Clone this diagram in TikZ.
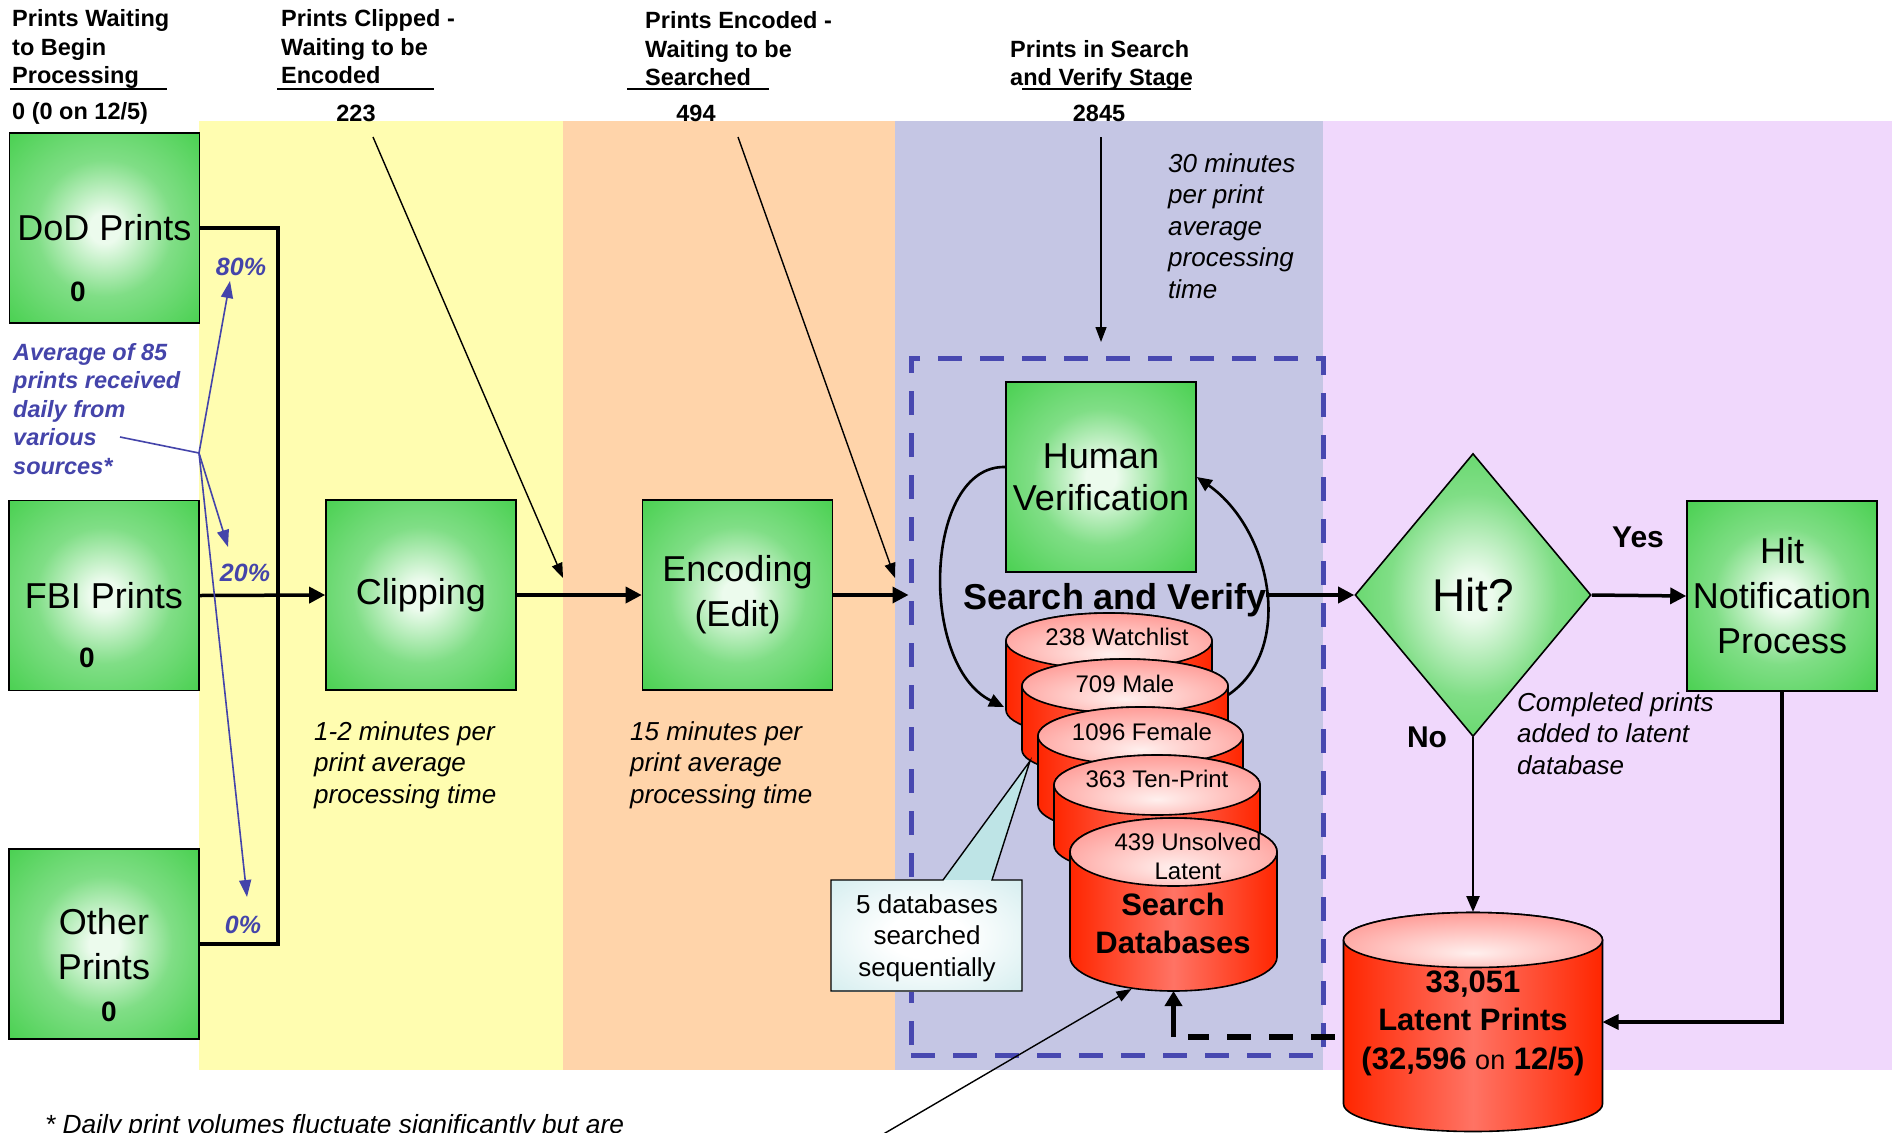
\documentclass[tikz,border=0pt]{standalone}
\usepackage{fontspec}
\setmainfont{Liberation Sans}
\usetikzlibrary{arrows.meta,shapes.geometric,calc}

\definecolor{bandY}{RGB}{255,253,176}
\definecolor{bandO}{RGB}{255,212,170}
\definecolor{bandB}{RGB}{197,198,228}
\definecolor{bandV}{RGB}{240,216,252}
\definecolor{gEdge}{RGB}{60,205,68}
\definecolor{gMid}{RGB}{128,222,134}
\definecolor{gCen}{RGB}{236,251,237}
\definecolor{rEdge}{RGB}{255,38,0}
\definecolor{rMid}{RGB}{255,115,100}
\definecolor{pEdge}{RGB}{255,118,112}
\definecolor{pCen}{RGB}{255,240,238}
\definecolor{cEdge}{RGB}{190,228,230}
\definecolor{annBlue}{RGB}{68,68,170}
\definecolor{boxBlue}{RGB}{72,72,176}

\pgfdeclareradialshading{greenglow}{\pgfpoint{0bp}{0bp}}{color(0bp)=(gCen); color(4bp)=(gCen); color(18bp)=(gMid); color(40bp)=(gEdge); color(50bp)=(gEdge)}
\pgfdeclareradialshading{pinkglow}{\pgfpoint{0bp}{-12bp}}{color(0bp)=(pCen); color(45bp)=(pEdge); color(60bp)=(pEdge)}
\pgfdeclareradialshading{cyanglow}{\pgfpoint{0bp}{0bp}}{color(0bp)=(white); color(10bp)=(white); color(50bp)=(cEdge)}

\newcommand{\fsz}[2]{\fontsize{#1}{#2}\selectfont}
\newcommand{\drawcyl}[5]{%
  \path[left color=rEdge, right color=rEdge, middle color=rMid, draw=black, line width=1.6pt]
    (#1-#4,-#2) -- (#1-#4,-#3) arc[start angle=180, end angle=360, x radius=#4, y radius=#5]
    -- (#1+#4,-#2) arc[start angle=0, end angle=180, x radius=#4, y radius=#5] -- cycle;
  \path[shade, shading=pinkglow, draw=black, line width=1.6pt] (#1,-#2) ellipse[x radius=#4, y radius=#5];
}

\tikzset{
  gbox/.style={draw=black, line width=1.6pt, shade, shading=greenglow, minimum width=190pt,
    minimum height=190pt, inner sep=0pt, align=center, font=\fsz{36pt}{45pt}},
  zero/.style={font=\bfseries\fsz{28pt}{30pt}, inner sep=0pt},
  flow/.style={line width=3.5pt, -{Triangle[length=16pt,width=16pt]}},
  thinarr/.style={line width=1.4pt, -{Triangle[length=15pt,width=11pt]}},
  ann/.style={annBlue, line width=1.6pt},
  annarr/.style={annBlue, line width=1.6pt, -{Triangle[length=17pt,width=12pt]}},
  hdr/.style={font=\bfseries\fsz{23.5pt}{28.5pt}, align=left, inner sep=0pt, anchor=west},
  num/.style={font=\bfseries\fsz{23.5pt}{28pt}, inner sep=0pt},
  note/.style={font=\itshape\fsz{26pt}{31.5pt}, align=left, inner sep=0pt, anchor=west},
  pct/.style={font=\bfseries\itshape\fsz{25pt}{30pt}, text=annBlue, inner sep=0pt},
  dblabel/.style={font=\fsz{24pt}{29pt}, inner sep=0pt, align=center},
  lbl/.style={inner sep=0pt, align=center},
  ghost/.style={inner sep=0pt, outer sep=0pt},
  arcarr/.style={line width=2.6pt, -{Triangle[length=15pt,width=13pt]}},
}

\begin{document}
\begin{tikzpicture}[x=1pt,y=1pt]
\useasboundingbox (0,0) rectangle (1894,-1132);
\fill[white] (0,0) rectangle (1894,-1132);

% stage bands
\fill[bandY] (199,-121) rectangle (563,-1070);
\fill[bandO] (563,-121) rectangle (895,-1070);
\fill[bandB] (895,-121) rectangle (1323,-1070);
\fill[bandV] (1323,-121) rectangle (1892,-1070);

% dashed search-and-verify frame
\node[draw=boxBlue, line width=5pt, dash pattern=on 24pt off 18pt, minimum width=412pt,
  minimum height=697pt, inner sep=0pt] (svbox) at (1117,-706.5) {};

% green process boxes
\node[gbox] (dod) at (104.5,-228) {DoD Prints};
\node[gbox] (fbi) at (104,-595.5) {FBI Prints};
\node[gbox, font=\fsz{36pt}{45pt}] (oth) at (104,-944) {Other\\Prints};
\node[gbox] (clip) at (421,-595) {Clipping};
\node[gbox] (enc) at (737.5,-595) {Encoding\\(Edit)};
\node[gbox, font=\fsz{36pt}{42pt}] (hv) at (1101,-477) {Human\\Verification};
\node[gbox] (hnp) at (1782,-596) {Hit\\Notification\\Process};
\node[diamond, draw=black, line width=1.6pt, shade, shading=greenglow, minimum width=236pt,
  minimum height=283pt, inner sep=0pt, font=\fsz{46pt}{50pt}] (hit) at (1473,-595) {Hit?};

\node[zero] (dod0) at (78,-292) {0};
\node[zero] (fbi0) at (87,-658) {0};
\node[zero] (oth0) at (109,-1012) {0};

% invisible anchors for the cylinders
\node[ghost, minimum width=206pt, minimum height=125pt] (db1) at (1109,-675.5) {};
\node[ghost, minimum width=206pt, minimum height=118pt] (db2) at (1125,-718) {};
\node[ghost, minimum width=207pt, minimum height=173pt] (db5) at (1173.5,-904.5) {};
\node[ghost, minimum width=259pt, minimum height=220pt] (lat) at (1473,-1022) {};

% loop between search databases and human verification
\draw[arcarr] ([yshift=10pt]hv.west) .. controls (924,-465) and (918,-665) .. ([xshift=-2pt,yshift=-31.5pt]db1.west);
\draw[arcarr] ([yshift=23pt]db2.east) .. controls (1295,-650) and (1272,-530) .. (hv.east);

% database stack
\drawcyl{1109}{641}{710}{103}{28}
\node[dblabel] (db1t) at (1117,-637) {238 Watchlist};
\drawcyl{1125}{686}{750}{103}{27}
\node[dblabel] (db2t) at (1125,-684) {709 Male};
\drawcyl{1140.5}{736}{805}{102.5}{29}
\node[dblabel] (db3t) at (1142,-732) {1096 Female};
\drawcyl{1157}{785}{845}{103}{30}
\node[dblabel] (db4t) at (1157,-779) {363 Ten-Print};
\drawcyl{1173.5}{852}{957}{103.5}{34}
\node[dblabel] (db5t) at (1188,-856.5) {439 Unsolved\\Latent};
\node[lbl, font=\bfseries\fsz{31pt}{38pt}] (dbname) at (1173,-923) {Search\\Databases};

% latent prints database
\drawcyl{1473}{940}{1104}{129.5}{27.5}
\node[lbl, font=\bfseries\fsz{31pt}{38.5pt}] (latt) at (1473,-1023)
  {33,051\\Latent Prints\\(32,596 {\mdseries\fsz{27pt}{38.5pt}on} 12/5)};

% callout
\path[fill=cEdge] (831,-880) -- (943,-880) -- (1030,-761) -- (992,-880) -- (1022,-880)
  -- (1022,-991) -- (831,-991) -- cycle;
\shade[shading=cyanglow] (831,-880) rectangle (1022,-991);
\draw[line width=1.4pt, line join=miter] (831,-880) -- (943,-880) -- (1030,-761) -- (992,-880) -- (1022,-880)
  -- (1022,-991) -- (831,-991) -- cycle;
\node[lbl, font=\fsz{26pt}{31.5pt}] (dbnote) at (927,-938) {5 databases\\searched\\sequentially};

% main flow
\coordinate (brk) at (278,-944);
\draw[line width=3.5pt] (dod.east) -| (brk) -- (oth.east);
\draw[flow] (fbi.east) -- (clip.west);
\draw[flow] (clip.east) -- (enc.west);
\draw[flow] (enc.east) -- (enc.east -| svbox.west);
\node[lbl, font=\bfseries\fsz{36pt}{40pt}] (sv) at (1115,-600) {Search and Verify};
\draw[flow] (sv.east |- hit.west) -- (hit.west);
\draw[flow] (hit.east) -- (hnp.west);
\draw[line width=2.4pt, -{Triangle[length=16pt,width=13pt]}] (hit.south) -- (lat.north);
\draw[line width=3.2pt, -{Triangle[length=16pt,width=15pt]}] (hnp.south) |- (lat.east);
\coordinate (dcorner) at (1173.5,-1037);
\draw[line width=6pt, dash pattern=on 24pt off 18pt] ([xshift=-9pt,yshift=-15pt]lat.west) -- ([xshift=14pt]dcorner);
\draw[line width=4.5pt, -{Triangle[length=15pt,width=17pt]}] (dcorner) -- (db5.south);

% queue pointers
\coordinate (q223) at (373,-137);
\coordinate (q223t) at (563,-578);
\coordinate (q494) at (738,-137);
\coordinate (q494t) at (895,-578);
\coordinate (q2845) at (1101,-137);
\coordinate (q2845t) at (1101,-342);
\coordinate (qbot) at (880,-1136);
\draw[thinarr] (q223) -- (q223t);
\draw[thinarr] (q494) -- (q494t);
\draw[thinarr] (q2845) -- (q2845t);
\draw[thinarr] (qbot) -- ([xshift=-42pt,yshift=2pt]db5.south);

% headers
\node[hdr] (h1) at (12,-49) {Prints Waiting\\to Begin\\Processing};
\node[hdr] (h2) at (281,-47) {Prints Clipped -\\Waiting to be\\Encoded};
\node[hdr] (h3) at (645,-49) {Prints Encoded -\\Waiting to be\\Searched};
\node[hdr] (h4) at (1010,-65.5) {Prints in Search\\and Verify Stage};
\draw[line width=2pt] (10,-89) -- (167,-89);
\draw[line width=2pt] (277,-89) -- (434,-89);
\draw[line width=2pt] (627,-89) -- (769,-89);
\draw[line width=2pt] (1022,-89) -- (1191,-89);
\node[num, anchor=west] (n0) at (12,-113) {0 (0 on 12/5)};
\node[num] (n223) at (356,-113) {223};
\node[num] (n494) at (696,-113) {494};
\node[num] (n2845) at (1099,-113) {2845};

% notes
\node[note] (t30) at (1168,-226) {30 minutes\\per print\\average\\processing\\time};
\node[note] (t12) at (314,-765) {1-2 minutes per\\print average\\processing time};
\node[note] (t15) at (630,-765) {15 minutes per\\print average\\processing time};
\node[note] (tcomp) at (1517,-733.5) {Completed prints\\added to latent\\database};
\node[font=\bfseries\fsz{30pt}{34pt}, inner sep=0pt] (yes) at (1638,-537) {Yes};
\node[font=\bfseries\fsz{30pt}{34pt}, inner sep=0pt] (no) at (1427,-737) {No};
\node[font=\itshape\fsz{26.3pt}{30pt}, inner sep=0pt, anchor=base west] (foot) at (45,-1133)
  {* Daily print volumes fluctuate significantly but are};

% blue annotation
\node[note, font=\bfseries\itshape\fsz{23.5pt}{28.5pt}, text=annBlue] (avg) at (13,-409)
  {Average of 85\\prints received\\daily from\\various\\sources*};
\coordinate (avgend) at (120,-437);
\coordinate (hub) at (199,-453);
\coordinate (t80) at (230,-281);
\coordinate (t20) at (228,-547);
\coordinate (t0) at (247,-897);
\draw[ann] (avgend) -- (hub);
\draw[annarr] (hub) -- (t80);
\draw[annarr] (hub) -- (t20);
\draw[annarr] (hub) -- (t0);
\node[pct] (p80) at (241,-267) {80\%};
\node[pct] (p20) at (245,-573) {20\%};
\node[pct] (p0) at (243,-925) {0\%};
\end{tikzpicture}
\end{document}
